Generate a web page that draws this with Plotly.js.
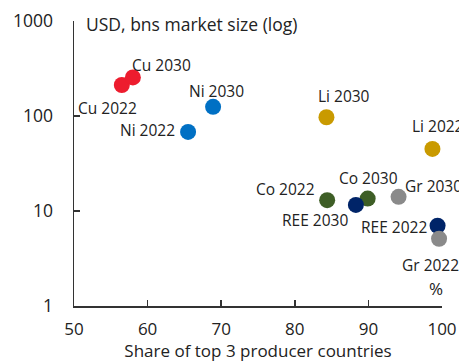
<!DOCTYPE html>
<html>
<head>
<meta charset="utf-8">
<script src="https://cdn.plot.ly/plotly-3.0.1.min.js"></script>
<style>
  html, body { margin: 0; padding: 0; background: #fff; }
  #chart { width: 459px; height: 362px; }
</style>
</head>
<body>
<div id="chart"></div>
<script>
// Critical minerals: market concentration vs market size, 2022 and 2030
const minerals = ['Cu', 'Ni', 'Li', 'Co', 'REE', 'Gr'];
const years = ['2022', '2030'];
// Share of top 3 producer countries, %
const share2022 = [56.5, 65.5, 98.7, 84.4, 99.4, 99.6];
const share2030 = [58.0, 68.9, 84.3, 89.9, 88.3, 94.1];
// Market size, USD bns
const size2022 = [212, 68, 45, 13, 7.0, 5.1];
const size2030 = [255, 125, 97, 13.5, 11.6, 14.1];
const yTickVals = [1, 10, 100, 1000];
const xTickVals = [50, 60, 70, 80, 90, 100];

const colors = {
  Cu: '#ED1C2E', Ni: '#0070C4', Li: '#C99A00',
  Co: '#3E5E26', REE: '#002468', Gr: '#8A8A8A'
};

// label placement, pixels from the marker centre: [dx, dy] for 2022 then 2030
const labelOffsets = {
  Cu: [[-14, 23], [29, -12]],
  Ni: [[-41, -2], [3, -16]],
  Li: [[6, -23], [18, -21]],
  Co: [[-42, -11], [1, -21]],
  REE: [[-44, 1], [-41, 15]],
  Gr: [[-9, 26], [35, -11]]
};

const textColor = '#222';
const font = 'Open Sans, Noto Sans, sans-serif';

const traces = [];
const annotations = [];
minerals.forEach((m, i) => {
  const xs = [share2022[i], share2030[i]];
  const ys = [size2022[i], size2030[i]];
  traces.push({
    type: 'scatter',
    mode: 'markers',
    x: xs,
    y: ys,
    name: m,
    cliponaxis: false,
    marker: { size: 16, color: colors[m], line: { width: 0 } },
    hoverinfo: 'x+y+text',
    text: years.map(yr => m + ' ' + yr)
  });
  years.forEach((yr, j) => {
    const off = labelOffsets[m][j];
    annotations.push({
      x: xs[j], y: Math.log10(ys[j]), xref: 'x', yref: 'y',
      text: m + ' ' + yr, showarrow: false,
      xanchor: 'center', yanchor: 'middle',
      xshift: off[0], yshift: -off[1],
      font: { family: font, size: 15.5, color: textColor }
    });
  });
});

annotations.push({
  xref: 'paper', yref: 'paper', x: 0.026, y: 1, yshift: -3,
  xanchor: 'left', yanchor: 'middle', showarrow: false,
  text: 'USD, bns market size (log)',
  font: { family: font, size: 17.5, color: textColor }
});
annotations.push({
  xref: 'paper', yref: 'paper', x: 0.983, y: 0.062,
  xanchor: 'center', yanchor: 'middle', showarrow: false,
  text: '%',
  font: { family: font, size: 17, color: textColor }
});

const layout = {
  width: 459, height: 362,
  margin: { l: 74, r: 17, t: 21, b: 56 },
  paper_bgcolor: '#fff', plot_bgcolor: '#fff',
  showlegend: false,
  font: { family: font, color: textColor },
  xaxis: {
    range: [50, 100], tickvals: xTickVals,
    showgrid: false, zeroline: false,
    showline: true, linecolor: '#333', linewidth: 1.5,
    ticks: 'inside', ticklen: 6, tickwidth: 1.5, tickcolor: '#333',
    tickfont: { family: font, size: 17, color: textColor },
    ticklabelstandoff: 7,
    title: { text: 'Share of top 3 producer countries', standoff: 11,
             font: { family: font, size: 17, color: textColor } }
  },
  yaxis: {
    type: 'log', range: [0, 3], tickvals: yTickVals,
    ticktext: yTickVals.map(String),
    showgrid: false, zeroline: false,
    showline: true, linecolor: '#333', linewidth: 1.5,
    ticks: 'inside', ticklen: 6, tickwidth: 1.5, tickcolor: '#333',
    tickfont: { family: font, size: 17.5, color: textColor },
    ticklabelstandoff: 16
  },
  annotations: annotations
};

Plotly.newPlot('chart', traces, layout, { displayModeBar: false, staticPlot: true });
</script>
</body>
</html>
